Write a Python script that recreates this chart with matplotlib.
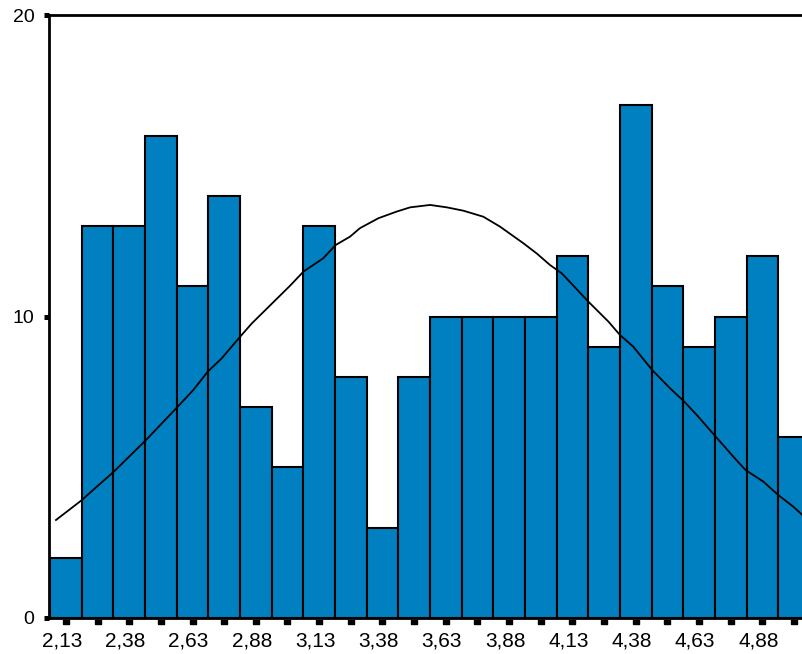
import numpy as np
import matplotlib
matplotlib.use('Agg')
import matplotlib.pyplot as plt
from matplotlib.transforms import ScaledTranslation

plt.rcParams['font.family'] = ['Liberation Sans', 'DejaVu Sans']

# histogram: bin centres and counts
bin_width = 0.125
bin_centers = [2.13 + bin_width * i for i in range(24)]
counts = [2, 13, 13, 16, 11, 14, 7, 5, 13, 8, 3, 8,
          10, 10, 10, 10, 12, 9, 17, 11, 9, 10, 12, 6]

tick_values = [2.13, 2.38, 2.63, 2.88, 3.13, 3.38, 3.63, 3.88, 4.13, 4.38, 4.63, 4.88]
tick_labels = ['2,13', '2,38', '2,63', '2,88', '3,13', '3,38', '3,63', '3,88',
               '4,13', '4,38', '4,63', '4,88']

# normal curve overlay
curve_x = [2.091, 2.193, 2.238, 2.319, 2.446, 2.565, 2.633, 2.690, 2.745, 2.818,
           2.864, 3.015, 3.068, 3.146, 3.195, 3.252, 3.291, 3.364, 3.436, 3.489,
           3.568, 3.634, 3.699, 3.778, 3.844, 3.936, 3.989, 4.041, 4.088, 4.193,
           4.272, 4.317, 4.370, 4.444, 4.515, 4.572, 4.621, 4.696, 4.765, 4.813,
           4.884, 4.942, 5.002, 5.045]
curve_y = [3.25, 3.91, 4.25, 4.85, 5.90, 6.95, 7.56, 8.17, 8.61, 9.33,
           9.77, 11.02, 11.49, 11.93, 12.37, 12.65, 12.93, 13.26, 13.48, 13.62,
           13.70, 13.62, 13.51, 13.31, 12.98, 12.43, 12.09, 11.71, 11.43, 10.49,
           9.83, 9.39, 9.00, 8.23, 7.62, 7.17, 6.73, 6.01, 5.35, 4.91,
           4.52, 4.08, 3.69, 3.36]

fig = plt.figure(figsize=(8.03, 6.54), dpi=100)
ax = fig.add_axes([49 / 803, 36 / 654, 1 - 49 / 803 + 0.01, 603 / 654])

ax.bar(bin_centers, counts, width=bin_width, color='#0080C0',
       edgecolor='black', linewidth=1.5, zorder=2)
ax.plot(curve_x, curve_y, color='black', linewidth=1.3, zorder=3)

ax.set_xlim(2.0635, 5.04 + 0.01 * 2.976 / (1 - 49 / 803))
ax.set_ylim(0, 20)

ax.spines['right'].set_visible(False)
ax.spines['left'].set_linewidth(2)
ax.spines['top'].set_linewidth(2)
ax.spines['bottom'].set_linewidth(2)

ax.set_yticks([0, 10, 20])
ax.set_yticklabels(['0', '10', '20'])
ax.tick_params(axis='y', direction='out', length=3.6, width=3.6, pad=7,
               labelsize=14, color='black')

ax.set_xticks(tick_values)
ax.set_xticklabels(tick_labels)
ax.tick_params(axis='x', length=0, pad=10, labelsize=15)
shift = ScaledTranslation(-4 / 100, 0, fig.dpi_scale_trans)
for lbl in ax.get_xticklabels():
    lbl.set_transform(lbl.get_transform() + shift)

# small square markers under each bin
marker_verts = [(-1, -0.5), (1, -0.5), (1, 0.5), (-1, 0.5), (-1, -0.5)]
offset = ScaledTranslation(0, -3.5 / 100, fig.dpi_scale_trans)
ax.plot(bin_centers, [0] * len(bin_centers), linestyle='none',
        marker=marker_verts, markersize=4.4, color='black',
        transform=ax.get_xaxis_transform() + offset, clip_on=False)

fig.savefig('out.png', dpi=100)
